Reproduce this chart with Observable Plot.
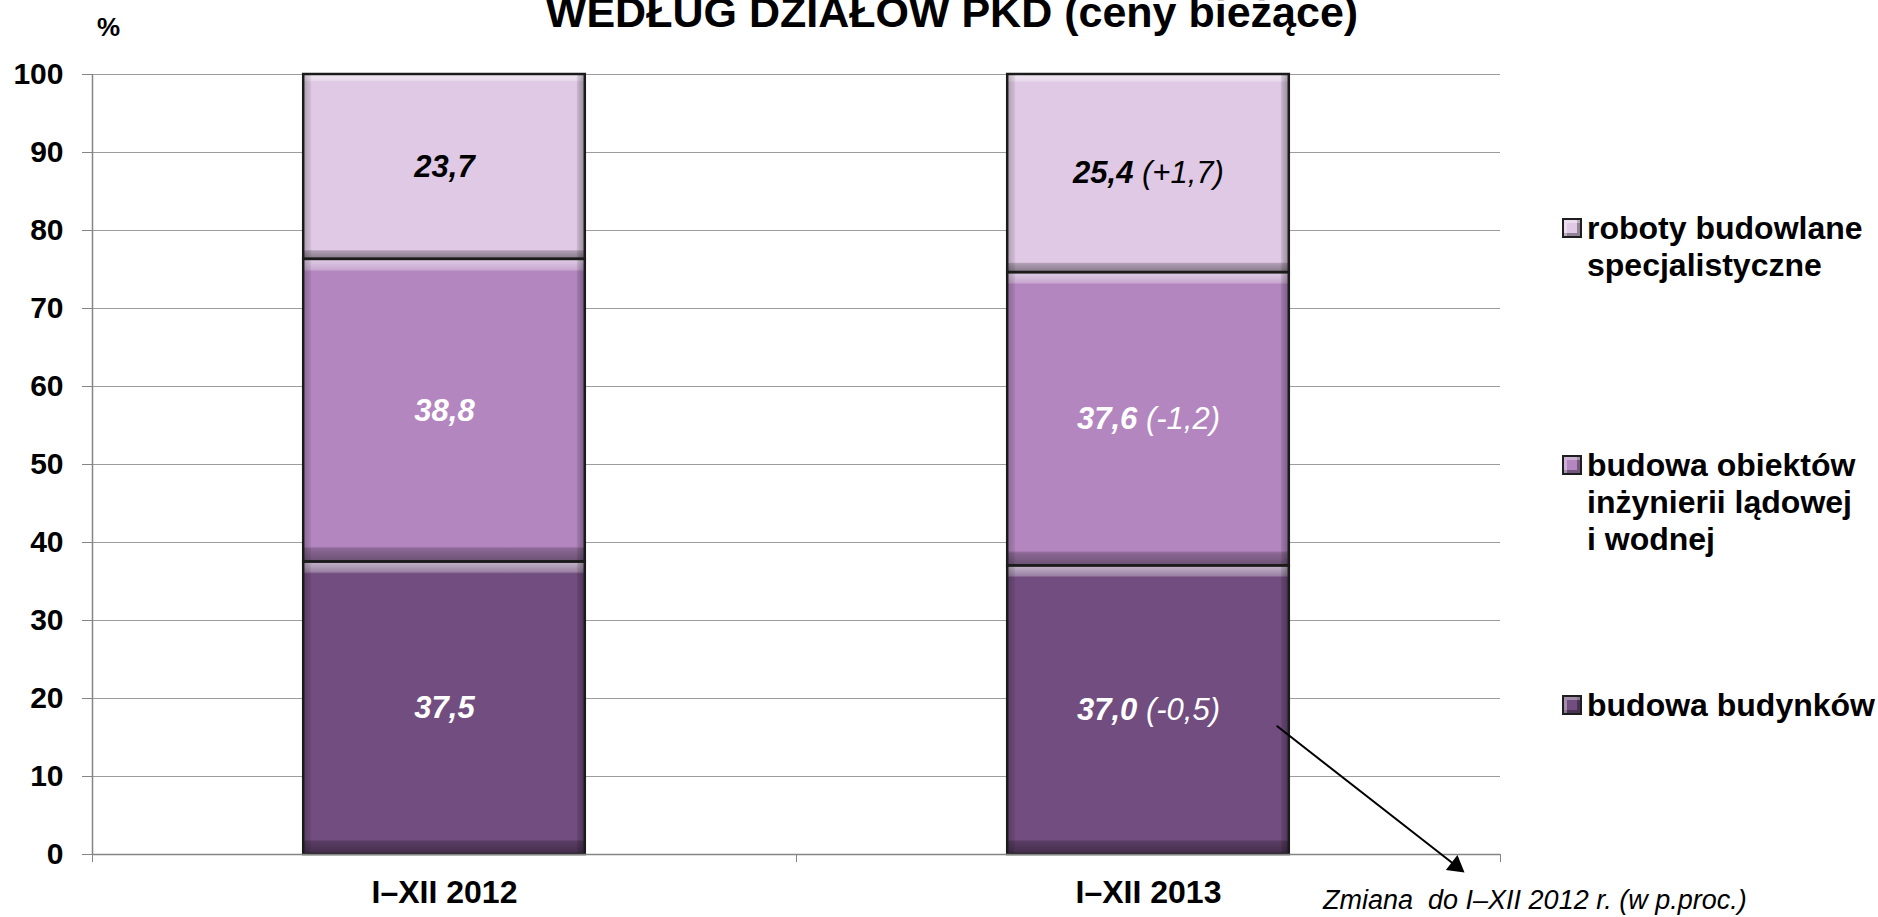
<!DOCTYPE html>
<html><head><meta charset="utf-8">
<script src="https://cdn.jsdelivr.net/npm/d3@7"></script>
<script src="https://cdn.jsdelivr.net/npm/@observablehq/plot@0.6"></script>
<style>
html,body{margin:0;padding:0;background:#fff;overflow:hidden;}
body{width:1878px;height:917px;position:relative;font-family:"Liberation Sans",Arial,sans-serif;color:#000;}
#chart{position:absolute;left:0;top:0;}
.title{position:absolute;left:0;width:1904px;top:-9px;text-align:center;font-weight:bold;font-size:43px;line-height:43px;white-space:nowrap;}
.pct{position:absolute;left:97px;top:14px;font-weight:bold;font-size:26px;line-height:26px;}
.item{position:absolute;left:1562px;}
.sw{position:absolute;left:0;top:8px;width:16px;height:16px;border:2px solid #1e1e1e;box-shadow:inset 3px 3px 0 rgba(255,255,255,.35), inset -3px -3px 0 rgba(0,0,0,.35);}
.lt{position:absolute;left:25px;top:0;font-weight:bold;font-size:32px;line-height:37px;white-space:nowrap;}
.caption{position:absolute;left:1323px;top:887px;font-style:italic;font-size:27px;line-height:27px;white-space:nowrap;}
</style></head>
<body>
<div id="chart"></div>
<div class="title">WEDŁUG DZIAŁÓW PKD (ceny bieżące)</div>
<div class="pct">%</div>
<div id="legend"></div>
<div class="caption">Zmiana&nbsp; do I–XII 2012 r. (w p.proc.)</div>
<script>
// ---- data ----
const categories = ["I–XII 2012", "I–XII 2013"];
const series = ["budowa budynków", "budowa obiektów inżynierii lądowej i wodnej", "roboty budowlane specjalistyczne"];
const legendLines = [["budowa budynków"], ["budowa obiektów", "inżynierii lądowej", "i wodnej"], ["roboty budowlane", "specjalistyczne"]];
const values2012 = [37.5, 38.8, 23.7];
const values2013 = [37.0, 37.6, 25.4];
const changes2013 = ["-0,5", "-1,2", "+1,7"];
const yTicks = [0, 10, 20, 30, 40, 50, 60, 70, 80, 90, 100];
const colors = ["#724d7f", "#b386c0", "#dfc9e4"];
// annotation arrow (from the 2013 "budowa budynków" label to the caption)
const arrowData = [{x1: 1.682, y1: 16.5, x2: 1.9367, y2: -1.45}];

const fmt = v => v.toFixed(1).replace(".", ",");
const valuesByCat = [values2012, values2013];
const rows = [];
categories.forEach((cat, i) => {
  let acc = 0;
  valuesByCat[i].forEach((v, j) => {
    rows.push({cat, i, j, series: series[j], value: v, y1: acc, y2: acc + v,
      label: fmt(v) + (i === 1 ? " (" + changes2013[j] + ")" : "")});
    acc += v;
  });
});

const BW = 0.4;
const bx1 = d => d.i + (1 - BW) / 2;
const bx2 = d => d.i + (1 + BW) / 2;
const rectOpts = {x1: bx1, x2: bx2, y1: "y1", y2: "y2"};

const plot = Plot.plot({
  width: 1878, height: 917,
  marginLeft: 92, marginRight: 378, marginTop: 74, marginBottom: 63,
  style: {fontFamily: '"Liberation Sans", Arial, sans-serif', background: "transparent", overflow: "visible", color: "#000"},
  x: {domain: [0, categories.length]},
  y: {domain: [0, 100]},
  color: {domain: series, range: colors},
  marks: [
    Plot.gridY(yTicks.filter(t => t > 0), {stroke: "#9c9c9c", strokeOpacity: 1, strokeWidth: 1}),
    Plot.rect(rows, {...rectOpts, fill: "series"}),
    Plot.rect(rows, {...rectOpts, fill: "url(#bevV)"}),
    Plot.rect(rows, {...rectOpts, fill: "url(#bevH)"}),
    Plot.rect(rows, {...rectOpts, fill: "none", stroke: "#1b1b1b", strokeWidth: 2.5}),
    Plot.ruleX([0], {y1: 0, y2: 100, stroke: "#858585", strokeWidth: 1.5}),
    Plot.ruleY([0], {stroke: "#858585", strokeWidth: 1.5}),
    Plot.axisY({ticks: yTicks, tickSize: 10, tickPadding: 19, fontSize: 30, fontWeight: "bold", stroke: "#858585", label: null}),
    Plot.axisX({ticks: d3.range(categories.length + 1), tickFormat: () => "", tickSize: 8, stroke: "#858585", label: null}),
    Plot.axisX({ticks: categories.map((c, i) => i + 0.5), tickFormat: t => categories[Math.floor(t)], tickSize: 0, tickPadding: 26, fontSize: 32, fontWeight: "bold", label: null}),
    Plot.text(rows, {filter: d => d.j === 2, x: d => d.i + 0.5, y: d => (d.y1 + d.y2) / 2, text: "label", fill: "black", fontSize: 31, fontStyle: "italic"}),
    Plot.text(rows, {filter: d => d.j !== 2, x: d => d.i + 0.5, y: d => (d.y1 + d.y2) / 2, text: "label", fill: "white", fontSize: 31, fontStyle: "italic"}),
    Plot.link(arrowData, {x1: "x1", y1: "y1", x2: "x2", y2: "y2", stroke: "black", strokeWidth: 2}),
    Plot.dot(arrowData, {x: "x2", y: "y2", symbol: "triangle", r: 7, fill: "black", stroke: "none", rotate: 128})
  ]
});

// bevel gradients
const svg = d3.select(plot);
const defs = svg.insert("defs", ":first-child");
const gV = defs.append("linearGradient").attr("id", "bevV").attr("x1", 0).attr("y1", 0).attr("x2", 0).attr("y2", 1);
[[0, "#fff", .6], [.035, "#fff", .3], [.042, "#fff", 0], [.95, "#000", 0], [.957, "#000", .22], [1, "#000", .4]]
  .forEach(([o, c, a]) => gV.append("stop").attr("offset", o).attr("stop-color", c).attr("stop-opacity", a));
const gH = defs.append("linearGradient").attr("id", "bevH").attr("x1", 0).attr("y1", 0).attr("x2", 1).attr("y2", 0);
[[0, "#000", .22], [.025, "#000", .08], [.03, "#000", 0], [.97, "#000", 0], [.975, "#000", .12], [1, "#000", .32]]
  .forEach(([o, c, a]) => gH.append("stop").attr("offset", o).attr("stop-color", c).attr("stop-opacity", a));

// mixed bold / normal in bar labels
svg.selectAll('g[aria-label="text"] text').each(function() {
  const t = this.textContent;
  const k = t.indexOf(" ");
  const el = d3.select(this);
  el.text(null);
  el.append("tspan").attr("font-weight", "bold").text(k < 0 ? t : t.slice(0, k));
  if (k >= 0) el.append("tspan").attr("font-weight", "normal").text(" " + t.slice(k + 1));
});

document.getElementById("chart").appendChild(plot);

// legend (top to bottom: reversed stack order)
const legendTops = [687, 447, 210];
const legend = d3.select("#legend");
series.forEach((s, j) => {
  const item = legend.append("div").attr("class", "item").style("top", legendTops[j] + "px");
  item.append("span").attr("class", "sw").style("background", colors[j]);
  item.append("span").attr("class", "lt").html(legendLines[j].join("<br>"));
});
</script>
</body></html>
